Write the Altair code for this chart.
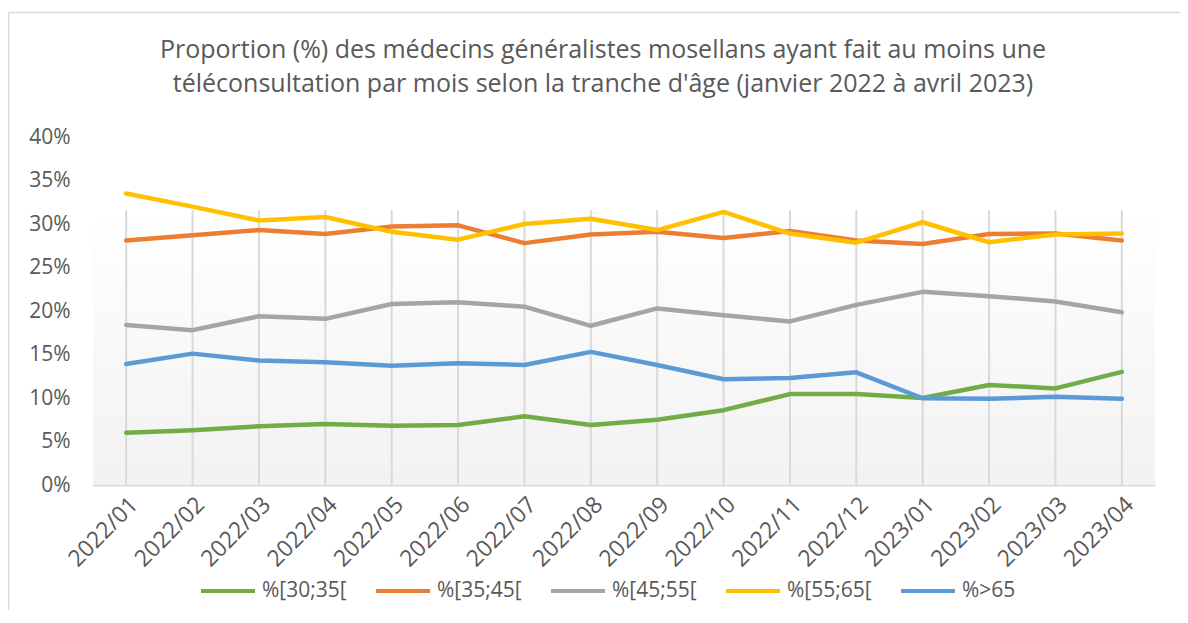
import altair as alt
import pandas as pd

months = ["2022/01", "2022/02", "2022/03", "2022/04", "2022/05", "2022/06", "2022/07", "2022/08",
          "2022/09", "2022/10", "2022/11", "2022/12", "2023/01", "2023/02", "2023/03", "2023/04"]
series_names = ["%[30;35[", "%[35;45[", "%[45;55[", "%[55;65[", "%>65"]
series_colors = ["#70AD47", "#ED7D31", "#A5A5A5", "#FFC000", "#5B9BD5"]

s30_35 = [6.0, 6.3, 6.75, 7.0, 6.8, 6.9, 7.9, 6.9, 7.5, 8.6, 10.45, 10.45, 10.0, 11.5, 11.1, 13.0]
s35_45 = [28.1, 28.7, 29.3, 28.85, 29.7, 29.85, 27.8, 28.8, 29.1, 28.4, 29.2, 28.1, 27.7, 28.85, 28.9, 28.1]
s45_55 = [18.4, 17.8, 19.4, 19.1, 20.8, 21.0, 20.5, 18.3, 20.3, 19.5, 18.8, 20.7, 22.2, 21.7, 21.1, 19.85]
s55_65 = [33.5, 32.0, 30.4, 30.8, 29.1, 28.2, 30.0, 30.6, 29.3, 31.4, 28.9, 27.85, 30.2, 27.9, 28.8, 28.9]
s65 = [13.9, 15.1, 14.3, 14.1, 13.7, 14.0, 13.8, 15.3, 13.8, 12.15, 12.3, 12.95, 9.97, 9.9, 10.15, 9.9]

y_ticks = [0, 5, 10, 15, 20, 25, 30, 35, 40]

title_line1 = "Proportion (%) des médecins généralistes mosellans ayant fait au moins une"
title_line2 = "téléconsultation par mois selon la tranche d'âge (janvier 2022 à avril 2023)"

rows = []
for name, vals in zip(series_names, [s30_35, s35_45, s45_55, s55_65, s65]):
    for m, v in zip(months, vals):
        rows.append({"mois": m, "serie": name, "valeur": v})
df = pd.DataFrame(rows)
df_months = pd.DataFrame({"mois": months})
df_one = pd.DataFrame({"k": [0]})

FONT = "Open Sans"
TXT = "#595959"
W, H = 1062, 348

x_enc = alt.X("mois:N", sort=months,
              scale=alt.Scale(type="point", padding=0.5),
              axis=alt.Axis(title=None, labelAngle=-45, labelFontSize=23, labelColor=TXT,
                            labelFont=FONT, labelPadding=8, ticks=False, grid=False,
                            domainColor="#D9D9D9", domainWidth=2))
y_scale = alt.Scale(domain=[0, 40], nice=False)

background = alt.Chart(df_one).mark_rect(
    fill=alt.Gradient(gradient="linear", x1=0, y1=0, x2=0, y2=1,
                      stops=[alt.GradientStop(color="#FFFFFF", offset=0),
                             alt.GradientStop(color="#F2F2F2", offset=1)]),
    strokeWidth=0, strokeOpacity=0,
).encode(
    x=alt.value(0), x2=alt.value(W),
    y=alt.value(73), y2=alt.value(H)
)

grid = alt.Chart(df_months).mark_rule(color="#D9D9D9", strokeWidth=2).encode(
    x=x_enc,
    y=alt.value(73),
    y2=alt.value(H),
)

lines = alt.Chart(df).mark_line(strokeWidth=4.5, strokeCap="round", strokeJoin="round").encode(
    x=x_enc,
    y=alt.Y("valeur:Q", scale=y_scale,
            axis=alt.Axis(title=None, values=y_ticks, labelExpr="datum.value + '%'",
                          labelFontSize=21, labelColor=TXT, labelFont=FONT,
                          labelPadding=23, ticks=False, domain=False, grid=False)),
    color=alt.Color("serie:N",
                    scale=alt.Scale(domain=series_names, range=series_colors),
                    legend=alt.Legend(title=None, orient="none", direction="horizontal",
                                      legendX=106, legendY=425,
                                      symbolType="stroke", symbolSize=2916,
                                      symbolStrokeWidth=4, labelFontSize=21,
                                      labelColor=TXT, labelFont=FONT, labelOffset=5,
                                      columnPadding=21, labelLimit=300)),
    order=alt.Order("serie:N"),
)

title1 = alt.Chart(df_one).mark_text(
    text=title_line1, font=FONT, fontSize=25, color=TXT, align="center", baseline="middle"
).encode(x=alt.value(510), y=alt.value(-87))
title2 = alt.Chart(df_one).mark_text(
    text=title_line2, font=FONT, fontSize=25, color=TXT, align="center", baseline="middle"
).encode(x=alt.value(510), y=alt.value(-53))

border_top = alt.Chart(df_one).mark_rule(color="#D9D9D9", strokeWidth=1.5).encode(
    x=alt.value(-84.5), x2=alt.value(W + 25), y=alt.value(-124.5)
)
border_left = alt.Chart(df_one).mark_rule(color="#D9D9D9", strokeWidth=1.5).encode(
    x=alt.value(-84.5), y=alt.value(-124.5), y2=alt.value(H + 125)
)

chart = alt.layer(background, grid, lines, title1, title2, border_top, border_left).properties(
    width=W, height=H,
    autosize=alt.AutoSizeParams(type="none"),
    padding={"left": 85, "top": 129, "right": 25, "bottom": 125},
).configure(
    background="white",
    view=alt.ViewConfig(stroke="transparent", strokeWidth=0, strokeOpacity=0),
    style={"cell": {"stroke": "transparent", "strokeWidth": 0}},
)

chart.save("out.html", embed_options={"renderer": "svg", "actions": False})
